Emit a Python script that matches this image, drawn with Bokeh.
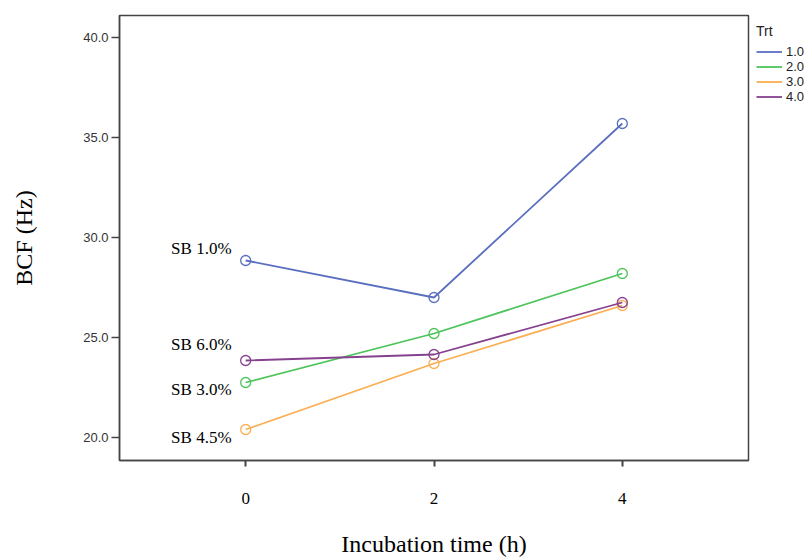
from bokeh.plotting import figure
from bokeh.models import Range1d, FixedTicker, Legend, LegendItem, Label, ColumnDataSource
from bokeh.embed import file_html
from bokeh.resources import INLINE

time_h = [0, 2, 4]
trt_labels = ["1.0", "2.0", "3.0", "4.0"]
bcf_trt1 = [28.85, 27.0, 35.7]
bcf_trt2 = [22.75, 25.2, 28.2]
bcf_trt3 = [20.4, 23.7, 26.6]
bcf_trt4 = [23.85, 24.15, 26.75]
sb_labels = ["SB 1.0%", "SB 3.0%", "SB 4.5%", "SB 6.0%"]
sb_label_y = [29.45, 22.4, 20.0, 24.65]
y_ticks = [20, 25, 30, 35, 40]

colors = ["#5a6fc0", "#4cc45a", "#fbae52", "#86418e"]
series = [bcf_trt1, bcf_trt2, bcf_trt3, bcf_trt4]

p = figure(frame_width=629, frame_height=445, output_backend="svg", toolbar_location=None,
           x_range=Range1d(-1.34, 5.34), y_range=Range1d(18.85, 41.1),
           min_border_left=119, min_border_right=0, min_border_top=15, min_border_bottom=99)
p.xgrid.visible = False
p.ygrid.visible = False
p.outline_line_color = "#444444"
p.outline_line_width = 1.5
p.background_fill_color = "white"
p.border_fill_color = "white"

items = []
for vals, c, lab in zip(series, colors, trt_labels):
    src = ColumnDataSource(dict(x=time_h, y=vals))
    r = p.line("x", "y", source=src, line_color=c, line_width=1.8)
    p.scatter("x", "y", source=src, marker="circle", size=10, fill_color=None,
              line_color=c, line_width=1.3)
    items.append(LegendItem(label=lab, renderers=[r]))

# axes
xa = p.xaxis[0]
xa.ticker = FixedTicker(ticks=time_h)
xa.axis_label = "Incubation time (h)"
xa.axis_label_text_font = "Liberation Serif"
xa.axis_label_text_font_style = "normal"
xa.axis_label_text_font_size = "24px"
xa.axis_label_text_color = "black"
xa.axis_label_text_line_height = 0.6
xa.axis_label_standoff = 24
xa.major_label_text_font = "Liberation Serif"
xa.major_label_text_font_size = "17px"
xa.major_label_text_color = "black"
xa.major_label_standoff = 26
xa.major_tick_out = 6
xa.major_tick_in = 0
xa.minor_tick_out = 0
xa.minor_tick_in = 0
xa.axis_line_color = "#444444"
xa.axis_line_width = 1.5
xa.major_tick_line_color = "#444444"
xa.major_tick_line_width = 2

ya = p.yaxis[0]
ya.ticker = FixedTicker(ticks=y_ticks)
ya.major_label_overrides = {t: f"{t:.1f}" for t in y_ticks}
ya.axis_label = "BCF (Hz)"
ya.axis_label_text_font = "Liberation Serif"
ya.axis_label_text_font_style = "normal"
ya.axis_label_text_font_size = "24px"
ya.axis_label_text_color = "black"
ya.axis_label_standoff = 43
ya.major_label_text_font = "Liberation Sans"
ya.major_label_text_font_size = "13px"
ya.major_label_text_color = "#333333"
ya.major_label_standoff = 3
ya.major_tick_out = 8
ya.major_tick_in = 0
ya.minor_tick_out = 0
ya.minor_tick_in = 0
ya.axis_line_color = "#444444"
ya.axis_line_width = 1.5
ya.major_tick_line_color = "#444444"
ya.major_tick_line_width = 1.5

# SB annotations
for txt, yy in zip(sb_labels, sb_label_y):
    p.add_layout(Label(x=-0.15, y=yy, text=txt, text_align="right", text_baseline="middle",
                       text_font="Liberation Serif", text_font_size="17px", text_color="black"))

legend = Legend(items=items, location="top_left", title="Trt",
                title_text_font="Liberation Sans", title_text_font_size="14px",
                title_text_font_style="normal", title_text_color="#222222",
                title_standoff=5,
                label_text_font="Liberation Sans", label_text_font_size="13px",
                label_text_color="#222222",
                glyph_width=26, glyph_height=15, label_height=15, label_standoff=4,
                spacing=0, padding=0, margin=8, border_line_color=None,
                background_fill_alpha=0)
p.add_layout(legend, "right")

open("out.html", "w").write(file_html(p, INLINE))
